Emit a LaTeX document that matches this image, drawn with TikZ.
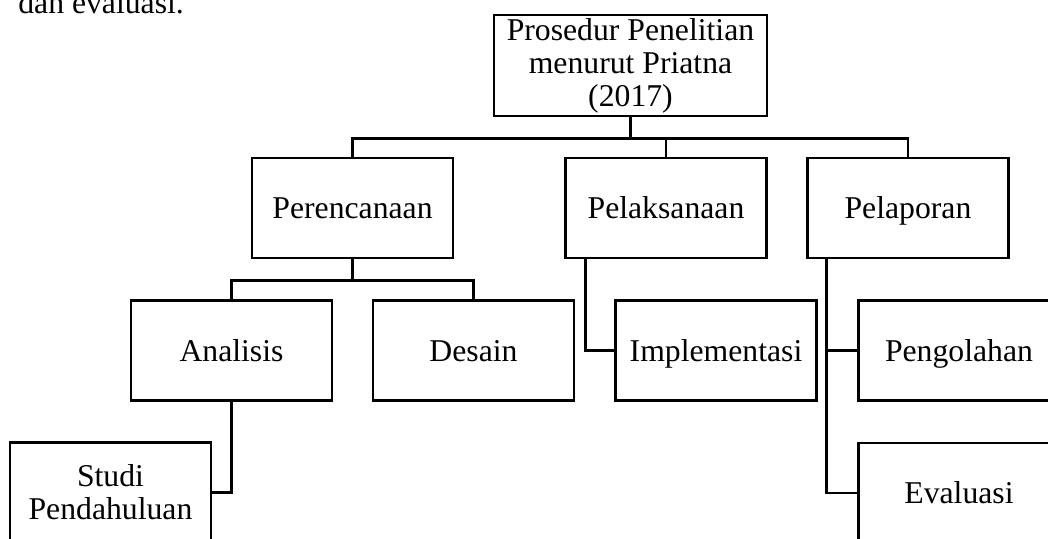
\documentclass[tikz,border=0pt]{standalone}
\usepackage{fontspec}
\setmainfont{Liberation Serif}
\usetikzlibrary{positioning}

\begin{document}
\begin{tikzpicture}[x=37.85pt,y=37.85pt,line width=1pt,
  box/.style={draw,minimum width=76.1pt,minimum height=37.85pt,inner sep=0pt,align=center,font=\fontsize{12}{12.5}\selectfont},
  lone/.style={box,text height=8pt,text depth=0pt}]
\useasboundingbox (0,0) rectangle (10.48,5.39);
\node[anchor=base west,inner sep=0pt,font=\fontsize{12}{12.5}\selectfont] (intro) at (.17,5.25){dan evaluasi.};
% level 0
\node[box,minimum width=103.3pt,minimum height=38.2pt] (top) at (6.305,4.735){Prosedur Penelitian\\menurut Priatna\\(2017)};
% level 1
\node[lone] (ren) at (3.525,3.31){Perencanaan};
\node[lone] (lak) at (6.66,3.31){Pelaksanaan};
\node[lone] (lap) at (9.08,3.31){Pelaporan};
% level 2
\node[lone] (ana) at (2.315,1.885){Analisis};
\node[lone] (des) at (4.735,1.885){Desain};
\node[lone] (imp) at (7.16,1.885){Implementasi};
\node[lone] (olah) at (9.59,1.885){Pengolahan};
% level 3
\node[box] (studi) at (1.105,.465){Studi\\Pendahuluan};
\node[lone] (eval) at (9.59,.46){Evaluasi};
% connectors
\draw (top.south) -- ++(0,-.21) coordinate (bus1);
\draw (bus1) -| (ren.north);
\draw (bus1) -| (lak.north);
\draw (bus1) -| (lap.north);
\draw (ren.south) -- ++(0,-.21) coordinate (bus2);
\draw (bus2) -| (ana.north);
\draw (bus2) -| (des.north);
\draw ([xshift=8pt]lak.south west) |- (imp.west);
\draw ([xshift=7.6pt]lap.south west) |- (olah.west);
\draw ([xshift=7.6pt]lap.south west) |- (eval.west);
\draw (ana.south) |- (studi.east);
\end{tikzpicture}
\end{document}
